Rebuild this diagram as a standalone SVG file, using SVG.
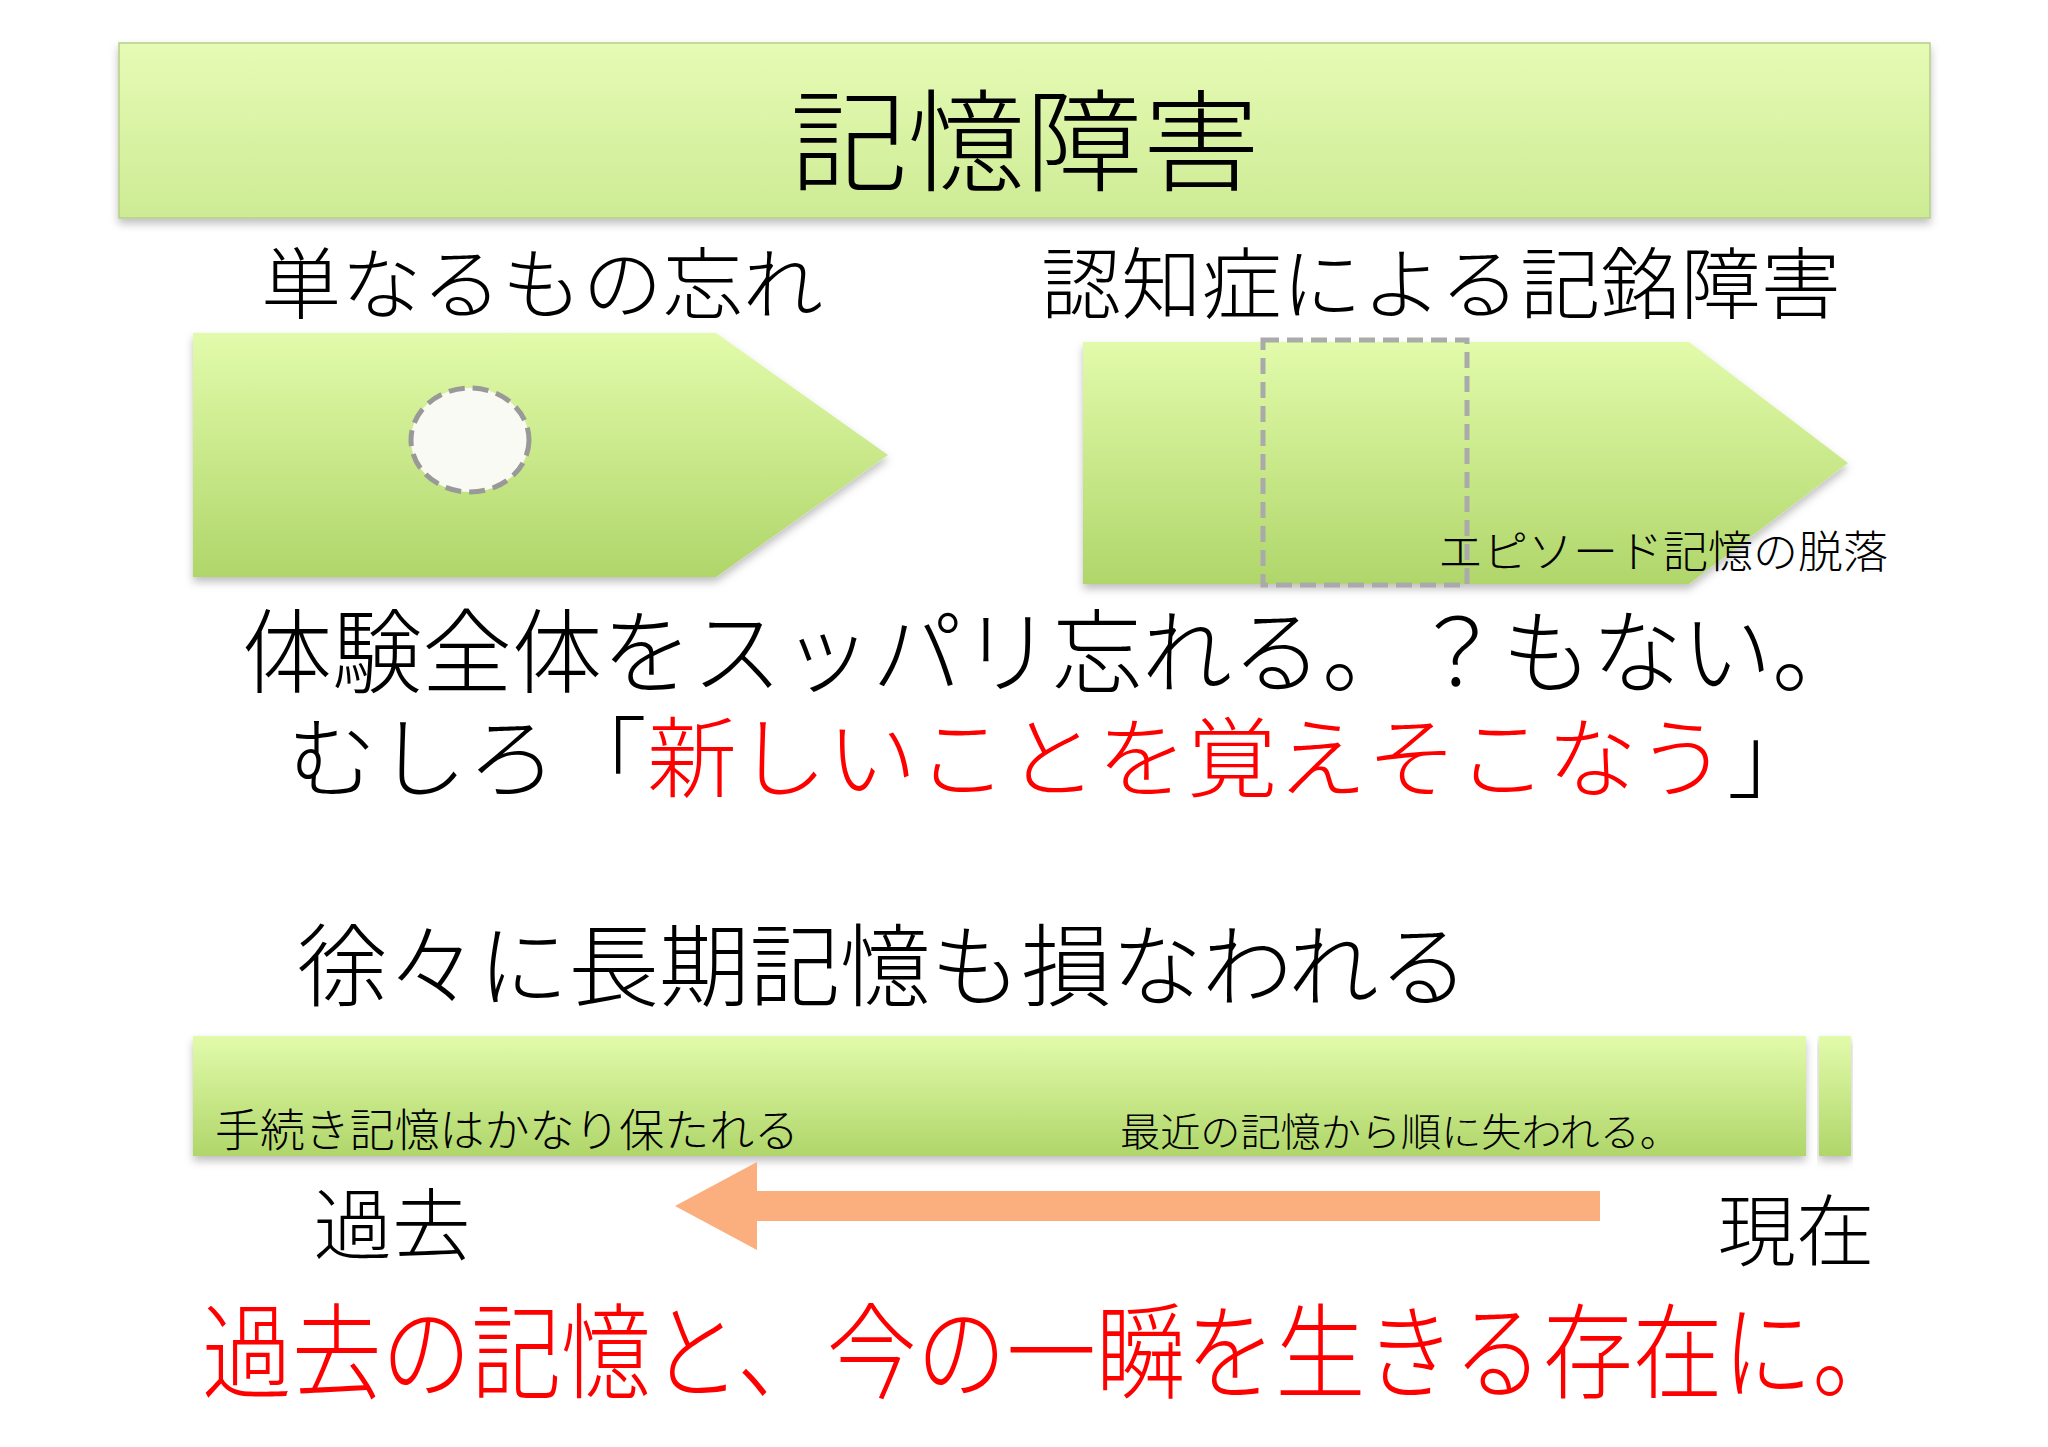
<svg xmlns="http://www.w3.org/2000/svg" width="2048" height="1447" viewBox="0 0 2048 1447">
<defs>
<linearGradient id="g" x1="0" y1="0" x2="0" y2="1"><stop offset="0" stop-color="#e2fbab"/><stop offset="1" stop-color="#b0d66a"/></linearGradient>
<linearGradient id="gt" x1="0" y1="0" x2="0" y2="1"><stop offset="0" stop-color="#e6fbb5"/><stop offset="1" stop-color="#cdeb94"/></linearGradient>
<filter id="sh" x="-5%" y="-5%" width="110%" height="120%"><feDropShadow dx="0" dy="5" stdDeviation="4" flood-color="#000" flood-opacity="0.25"/></filter>
<style>
text{font-family:"Noto Sans CJK JP","Noto Sans",sans-serif;font-weight:300;fill:#000}
.c{text-anchor:middle}
.r{fill:#ff0000}
</style>
</defs>
<rect width="2048" height="1447" fill="#fff"/>
<g id="title"><rect x="119" y="43" width="1811" height="175" fill="url(#gt)" stroke="#b5cf88" stroke-width="1.5" filter="url(#sh)"/>
<text class="c" x="1025" y="183" font-size="111" textLength="470" lengthAdjust="spacingAndGlyphs">記憶障害</text></g>
<g id="headings">
<text class="c" x="542" y="313" font-size="78" textLength="562" lengthAdjust="spacingAndGlyphs">単なるもの忘れ</text>
<text class="c" x="1441" y="313" font-size="78" textLength="800" lengthAdjust="spacingAndGlyphs">認知症による記銘障害</text></g>
<g id="left-arrow"><polygon points="193,333 716,333 888,455 716,577 193,577" fill="url(#g)" filter="url(#sh)"/>
<ellipse cx="470" cy="440" rx="59" ry="52" fill="#fafaf5" stroke="#999" stroke-width="5" stroke-dasharray="16,8"/></g>
<g id="right-arrow"><polygon points="1083,342 1689,342 1848,463 1689,584 1083,584" fill="url(#g)" filter="url(#sh)"/>
<rect x="1263" y="340" width="204" height="245" fill="none" stroke="#aaa" stroke-width="5" stroke-dasharray="16,8"/>
<text class="c" x="1663" y="568" font-size="44" textLength="450" lengthAdjust="spacingAndGlyphs">エピソード記憶の脱落</text></g>
<g id="body">
<text x="242" y="686" font-size="92" textLength="1620" lengthAdjust="spacingAndGlyphs">体験全体をスッパリ忘れる。？もない。</text>
<text x="287" y="790" font-size="88" textLength="1530" lengthAdjust="spacingAndGlyphs">むしろ「<tspan class="r">新しいことを覚えそこなう</tspan>」</text>
<text x="297" y="999" font-size="90" textLength="1172" lengthAdjust="spacingAndGlyphs">徐々に長期記憶も損なわれる</text></g>
<g id="bar"><rect x="193" y="1036" width="1613" height="120" fill="url(#g)" filter="url(#sh)"/>
<rect x="1819" y="1036" width="32" height="120" fill="url(#g)" filter="url(#sh)"/>
<text x="215" y="1147" font-size="45" textLength="584" lengthAdjust="spacingAndGlyphs">手続き記憶はかなり保たれる</text>
<text x="1120" y="1146" font-size="39" textLength="560" lengthAdjust="spacingAndGlyphs">最近の記憶から順に失われる。</text></g>
<g id="connectors"><polygon points="1600,1191 757,1191 757,1162 675,1206 757,1250 757,1221 1600,1221" fill="#fbae7e"/></g>
<g id="labels">
<text class="c" x="392" y="1254" font-size="78" textLength="157" lengthAdjust="spacingAndGlyphs">過去</text>
<text class="c" x="1796" y="1260" font-size="78" textLength="157" lengthAdjust="spacingAndGlyphs">現在</text>
<text class="r" x="202" y="1391" font-size="104" textLength="1700" lengthAdjust="spacingAndGlyphs">過去の記憶と、今の一瞬を生きる存在に。</text></g>
</svg>
